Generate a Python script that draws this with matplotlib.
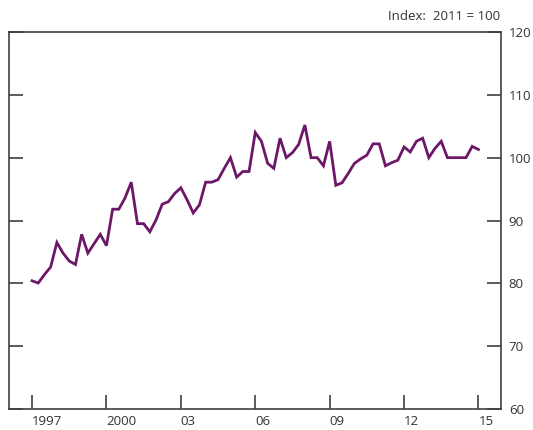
import pandas as pd
import matplotlib
matplotlib.use("Agg")
import matplotlib.pyplot as plt

# Quarterly index, 2011 = 100
quarters = pd.period_range("1997Q1", "2015Q1", freq="Q")
index_values = [80.4, 80.05, 81.4, 82.6, 86.5, 84.8, 83.55, 83.0,
                87.8, 84.8, 86.3, 87.8, 86.0, 91.8, 91.8, 93.6,
                96.1, 89.5, 89.5, 88.2, 90.1, 92.6, 93.0, 94.3,
                95.2, 93.3, 91.2, 92.5, 96.1, 96.1, 96.5, 98.3,
                100.0, 96.9, 97.8, 97.8, 104.0, 102.6, 99.1, 98.3,
                103.1, 100.0, 100.8, 102.1, 105.2, 100.0, 100.0, 98.7,
                102.6, 95.6, 96.0, 97.5, 99.1, 99.8, 100.4, 102.2,
                102.2, 98.7, 99.2, 99.6, 101.7, 100.9, 102.6, 103.1,
                100.0, 101.5, 102.6, 100.0, 100.0, 100.0, 100.0, 101.8,
                101.3]

tick_years = [1997, 2000, 2003, 2006, 2009, 2012, 2015]
tick_labels = ["1997", "2000", "03", "06", "09", "12", "15"]
y_ticks = [60, 70, 80, 90, 100, 110, 120]

x = quarters.year + (quarters.quarter - 1) / 4

plt.rcParams['font.family'] = ['Open Sans', 'DejaVu Sans']
line_col = '#6c1768'
axis_col = '#404040'
text_col = '#333333'

fig = plt.figure(figsize=(5.33, 4.30), dpi=100)
ax = fig.add_axes([9 / 533, 21 / 430, 491.5 / 533, 377 / 430])

ax.plot(x, index_values, color=line_col, lw=2.0, solid_joinstyle='miter')

ax.set_xlim(1996.07, 2015.89)
ax.set_ylim(60, 120)

ax.set_xticks(tick_years)
ax.set_xticklabels(tick_labels)
for lbl in ax.get_xticklabels():
    lbl.set_ha('left')
ax.set_yticks(y_ticks)

ax.yaxis.set_ticks_position('both')
ax.tick_params(axis='y', direction='in', length=10, width=1.2, color=axis_col,
               labelleft=False, labelright=True, labelsize=9.5,
               labelcolor=text_col, pad=6)
ax.tick_params(axis='x', direction='in', length=10, width=1.2, color=axis_col,
               top=False, labelsize=9.5, labelcolor=text_col, pad=4.5)

for s in ax.spines.values():
    s.set_color(axis_col)
    s.set_linewidth(1.2)

fig.text(500.5 / 533, 1 - 17 / 430, "Index:  2011 = 100", ha='right', va='center',
         fontsize=9.5, color=text_col)

fig.savefig("out.png", dpi=100)
